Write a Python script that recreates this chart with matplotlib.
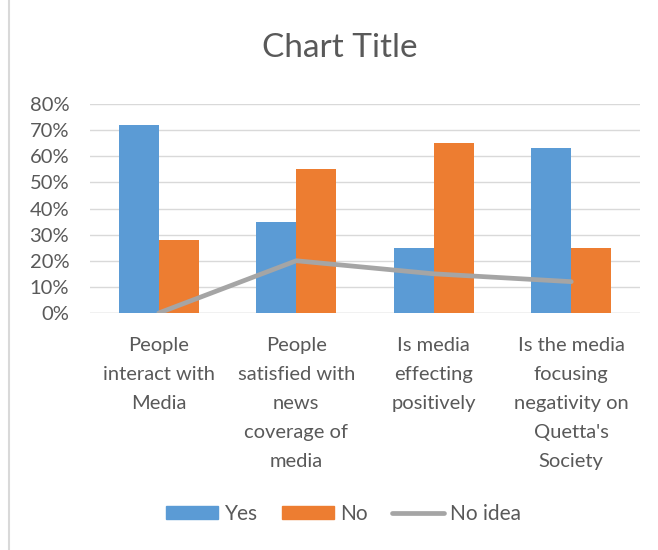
import matplotlib
matplotlib.use("Agg")
import matplotlib.pyplot as plt
import numpy as np
from matplotlib.patches import Patch
from matplotlib.lines import Line2D

categories = ["People\ninteract with\nMedia",
              "People\nsatisfied with\nnews\ncoverage of\nmedia",
              "Is media\neffecting\npositively",
              "Is the media\nfocusing\nnegativity on\nQuetta's\nSociety"]
yes = [0.72, 0.35, 0.25, 0.63]
no = [0.28, 0.55, 0.65, 0.25]
no_idea = [0.00, 0.20, 0.15, 0.12]
yticks = [0, 0.1, 0.2, 0.3, 0.4, 0.5, 0.6, 0.7, 0.8]
ytick_labels = ["0%", "10%", "20%", "30%", "40%", "50%", "60%", "70%", "80%"]

plt.rcParams['font.family'] = ['Lato', 'DejaVu Sans']
txt = '#595959'

W, H = 658, 550
fig = plt.figure(figsize=(W/100, H/100), dpi=100)
ax = fig.add_axes([90/W, 1-313/H, (640-90)/W, (313-104)/H])

x = np.arange(len(categories))
bw = 0.29
ax.bar(x - bw/2, yes, bw, color='#5b9bd5', zorder=2, label='Yes')
ax.bar(x + bw/2, no, bw, color='#ed7d31', zorder=2, label='No')
ax.plot(x, no_idea, color='#a5a5a5', lw=3.4, solid_capstyle='round', zorder=3, label='No idea')

ax.set_xlim(-0.5, len(categories) - 0.5)
ax.set_ylim(0, 0.8)
ax.set_yticks(yticks)
ax.set_yticklabels(ytick_labels, color=txt, fontsize=14.5)
ax.set_xticks(x)
ax.set_xticklabels(categories, color=txt, fontsize=14.5, linespacing=1.86)
ax.tick_params(axis='both', length=0)
ax.tick_params(axis='x', pad=17)
ax.tick_params(axis='y', pad=15)
ax.grid(axis='y', color='#d9d9d9', lw=1, zorder=0)
for s in ax.spines.values():
    s.set_visible(False)
ax.axhline(0, color='#d9d9d9', lw=1, zorder=1)

fig.text(340/W, 1-48/H, "Chart Title", ha='center', va='center', fontsize=24, color=txt)

handles = [Patch(color='#5b9bd5', label='Yes'),
           Patch(color='#ed7d31', label='No'),
           Line2D([0], [0], color='#a5a5a5', lw=3.4, solid_capstyle='round', label='No idea')]
fig.legend(handles=handles, loc='center', bbox_to_anchor=(343.5/W, 1-514/H), ncol=3,
           frameon=False, fontsize=15, labelcolor=txt, handlelength=2.5, handleheight=0.62,
           columnspacing=1.15, handletextpad=0.3)

fig.add_artist(Line2D([9/W, 9/W], [0, 1], color='#d9d9d9', lw=1.5, transform=fig.transFigure))

fig.savefig("out.png", dpi=100)
